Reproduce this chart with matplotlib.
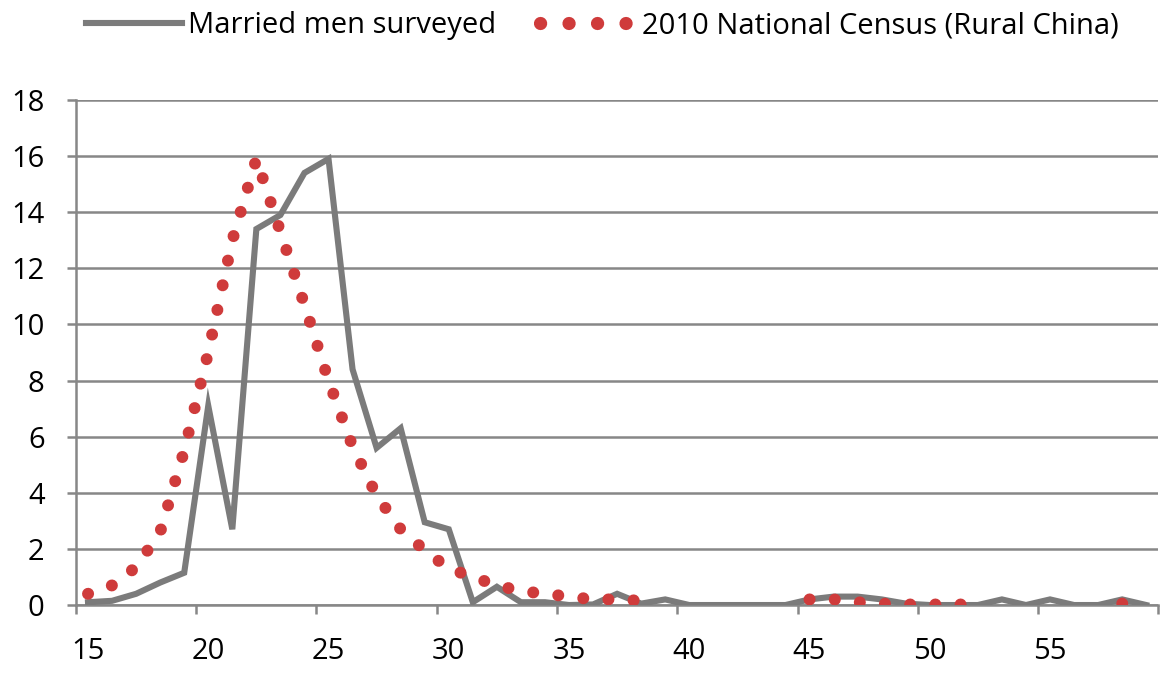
import numpy as np
import matplotlib
matplotlib.use("Agg")
from matplotlib import pyplot as plt
from matplotlib.lines import Line2D

plt.rcParams['font.family'] = ['Open Sans', 'DejaVu Sans']

# ages 15..59, share (%) married at each age
ages = list(range(15, 60))
married = [0.1, 0.15, 0.4, 0.8, 1.15, 7.1, 2.7, 13.4, 13.9, 15.4,    # 15-24
           15.9, 8.4, 5.6, 6.3, 2.95, 2.7, 0.1, 0.65, 0.1, 0.1,      # 25-34
           0.0, 0.02, 0.4, 0.05, 0.2, 0.0, 0.0, 0.0, 0.0, 0.0,       # 35-44
           0.2, 0.3, 0.3, 0.2, 0.05, 0.0, 0.0, 0.0, 0.2, 0.0,        # 45-54
           0.2, 0.0, 0.0, 0.2, 0.0]                                  # 55-59
nan = np.nan
census = [0.4, 0.7, 1.35, 2.6, 5.5, 9.0, 13.0, 15.9, 13.3, 10.7,    # 15-24
          8.0, 5.65, 3.9, 2.7, 1.95, 1.3, 1.0, 0.7, 0.5, 0.4,       # 25-34
          0.3, 0.2, 0.2, 0.15, nan, nan, nan, nan, nan, nan,        # 35-44
          0.2, 0.2, 0.1, 0.05, 0.02, 0.02, 0.02, 0.02, nan, nan,    # 45-54
          nan, nan, nan, 0.05, 0.02]                                # 55-59
xlabels = [15, 20, 25, 30, 35, 40, 45, 50, 55]
yticks = list(range(0, 19, 2))

gray = '#7b7b7b'
grid_c = '#878787'
red = '#cf3b3b'

fig = plt.figure(figsize=(11.6, 6.73), dpi=100)
ax = fig.add_axes([0.0655, 0.101, 0.933, 0.7505])

ax.plot(ages, married, color=gray, lw=4.4, solid_joinstyle='miter', zorder=3)
ax.plot(ages, census, color=red, lw=8.6, linestyle=(0, (0.01, 2.1)),
        dash_capstyle='round', zorder=4)

ax.set_xlim(14.5, 59.5)
ax.set_ylim(0, 18)
ax.set_yticks(yticks)
ax.set_xticks(xlabels)
ax.set_xticks(np.arange(14.5, 60, 5), minor=True)
ax.grid(axis='y', color=grid_c, lw=1.8, zorder=1)
ax.set_axisbelow(True)

for s in ['top', 'right']:
    ax.spines[s].set_visible(False)
for s in ['left', 'bottom']:
    ax.spines[s].set_color(grid_c)
    ax.spines[s].set_linewidth(1.8)

ax.tick_params(axis='y', length=6.5, width=1.8, color=grid_c, pad=16,
               labelsize=21)
ax.tick_params(axis='x', which='major', length=0, pad=23, labelsize=21)
ax.tick_params(axis='x', which='minor', length=6.5, width=1.8, color=grid_c)

handles = [Line2D([], [], color=gray, lw=4.4),
           Line2D([], [], color=red, lw=9.5, linestyle=(0, (0.01, 2.15)),
                  dash_capstyle='round')]
fig.legend(handles, ['Married men surveyed', '2010 National Census (Rural China)'],
           loc='center', bbox_to_anchor=(0.519, 0.962), ncol=2, frameon=False,
           fontsize=21, handlelength=3.3, handletextpad=0.2, columnspacing=1.5)

fig.savefig('out.png', dpi=100)
